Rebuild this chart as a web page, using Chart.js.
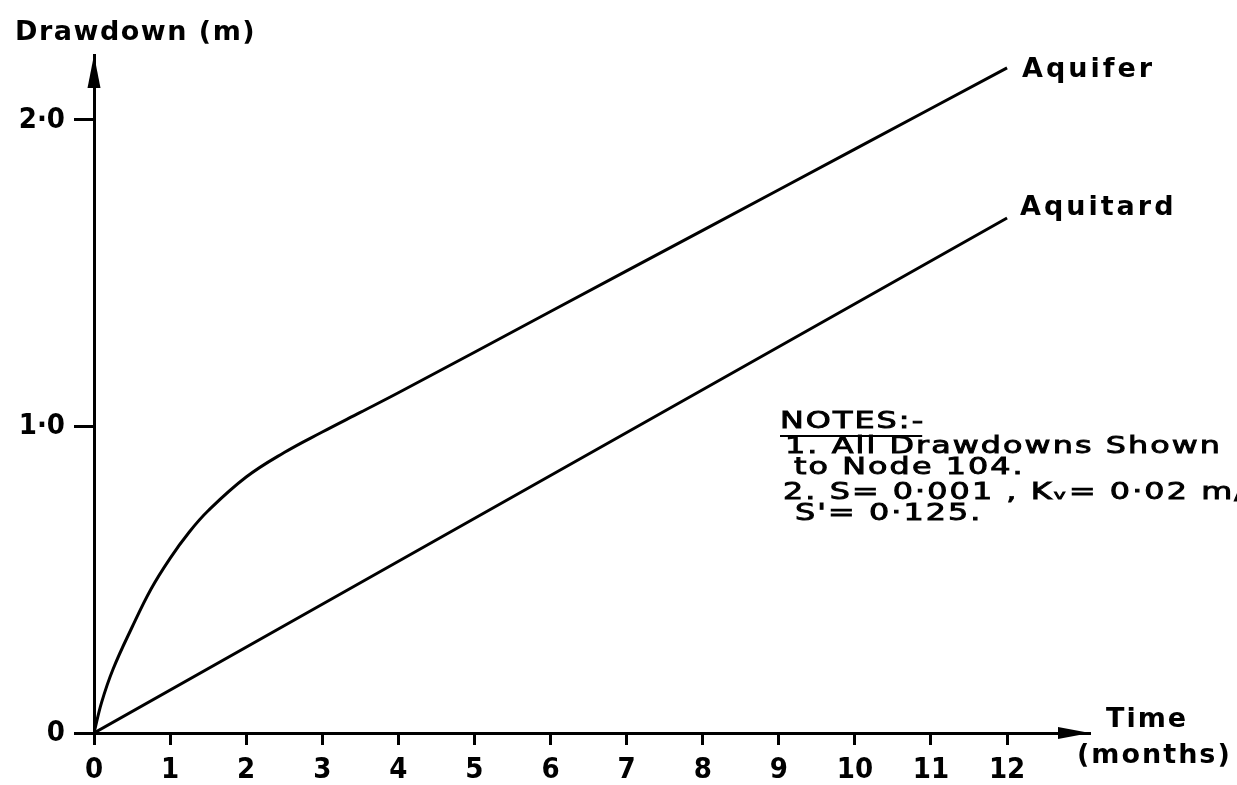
<!DOCTYPE html>
<html>
<head>
<meta charset="utf-8">
<script src="https://cdn.jsdelivr.net/npm/chart.js@4"></script>
<style>
  html, body { margin: 0; padding: 0; background: #fff; }
  #wrap { width: 1237px; height: 785px; }
</style>
</head>
<body>
<div id="wrap"><canvas id="drawdown-chart" width="1237" height="785"></canvas></div>
<script>
// values
const months = [0, 0.1, 0.25, 0.5, 0.75, 1, 1.25, 1.5, 2, 2.5, 3, 3.5, 4, 6, 8, 10, 12];
const aquifer = [0, 0.1, 0.208, 0.345, 0.47, 0.57, 0.655, 0.725, 0.835, 0.915, 0.982, 1.046, 1.11, 1.375, 1.64, 1.905, 2.17];
const aquitardMonths = [0, 3, 6, 9, 12];
const aquitard = [0, 0.42, 0.84, 1.26, 1.68];
const xTicks = [0, 1, 2, 3, 4, 5, 6, 7, 8, 9, 10, 11, 12];
const yTicks = [0, 1, 2];
const yTickLabels = ['0', '1·0', '2·0'];
const notes = [
  '1. All Drawdowns Shown',
  'to Node 104.',
  '2. S= 0·001 , Kᵥ= 0·02 m/da',
  'S\'= 0·125.'
];
const notesX = [785, 794, 783, 795];
const notesY = [453, 474, 499, 520];

const canvas = document.querySelector('#drawdown-chart');
const ink = '#000';
const face = '"DejaVu Sans Condensed", "DejaVu Sans"';
const textFace = '"DejaVu Sans"';

function toPoints(xs, ys) {
  return xs.map((x, i) => ({ x: x, y: ys[i] }));
}

// arrows, titles, series names and the notes block
const annotations = {
  id: 'annotations',
  afterDraw(chart) {
    const ctx = chart.ctx;
    const area = chart.chartArea;
    const ys = chart.scales.y;
    ctx.save();
    ctx.fillStyle = ink;
    ctx.strokeStyle = ink;

    // y axis arrow head
    ctx.beginPath();
    ctx.moveTo(area.left, area.top);
    ctx.lineTo(area.left - 6.5, area.top + 33);
    ctx.lineTo(area.left + 6.5, area.top + 33);
    ctx.closePath();
    ctx.fill();

    // x axis arrow head
    ctx.beginPath();
    ctx.moveTo(area.right, area.bottom);
    ctx.lineTo(area.right - 32, area.bottom - 6);
    ctx.lineTo(area.right - 32, area.bottom + 6);
    ctx.closePath();
    ctx.fill();

    ctx.textBaseline = 'alphabetic';
    ctx.textAlign = 'left';

    // axis titles
    ctx.font = 'bold 27px ' + textFace;
    ctx.letterSpacing = '1.5px';
    ctx.fillText('Drawdown (m)', 15, 40);
    ctx.letterSpacing = '2px';
    ctx.fillText('Time', 1106, 727);
    ctx.fillText('(months)', 1077, 763);

    // series names next to the line ends
    ctx.letterSpacing = '3px';
    ctx.fillText('Aquifer', 1022, ys.getPixelForValue(aquifer[aquifer.length - 1]) + 9);
    ctx.fillText('Aquitard', 1020, ys.getPixelForValue(aquitard[aquitard.length - 1]) - 3);

    // notes: wide lettering, stretched so the first line spans like the original
    ctx.font = '23px ' + textFace;
    ctx.letterSpacing = '1.5px';
    const sx = 437 / ctx.measureText(notes[0]).width;
    const wideText = (s, x, y) => {
      ctx.save();
      ctx.translate(x, y);
      ctx.scale(sx, 1);
      ctx.lineWidth = 0.9;
      ctx.fillText(s, 0, 0);
      ctx.strokeText(s, 0, 0);
      ctx.restore();
    };
    wideText('NOTES:-', 780, 428);
    const w = ctx.measureText('NOTES:-').width * sx;
    ctx.lineWidth = 2;
    ctx.beginPath();
    ctx.moveTo(780, 436);
    ctx.lineTo(780 + w - 3, 436);
    ctx.stroke();
    notes.forEach((line, i) => {
      wideText(line, notesX[i], notesY[i]);
    });
    ctx.restore();
  }
};

const drawdownChart = new Chart(canvas, {
  type: 'scatter',
  data: {
    datasets: [
      {
        label: 'Aquifer',
        data: toPoints(months, aquifer),
        showLine: true,
        borderColor: ink,
        borderWidth: 3,
        pointRadius: 0,
        tension: 0.4,
        fill: false,
      },
      {
        label: 'Aquitard',
        data: toPoints(aquitardMonths, aquitard),
        showLine: true,
        borderColor: ink,
        borderWidth: 3,
        pointRadius: 0,
        fill: false,
      }
    ]
  },
  options: {
    responsive: false,
    animation: false,
    layout: {
      padding: { left: 0, right: 147, top: 55, bottom: 0 }
    },
    plugins: {
      legend: { display: false },
      tooltip: { enabled: false },
    },
    scales: {
      x: {
        type: 'linear',
        min: 0,
        max: 13.09,
        afterBuildTicks: (scale) => {
          scale.ticks = xTicks.map(v => ({ value: v }));
        },
        afterFit: (scale) => {
          scale.height = 52;
        },
        ticks: {
          color: ink,
          padding: 8,
          maxRotation: 0,
          autoSkip: false,
          font: { family: face, size: 29, weight: '600' },
          callback: (v) => String(v),
        },
        grid: {
          drawOnChartArea: false,
          drawTicks: true,
          tickLength: 12,
          tickWidth: 3,
          tickColor: ink,
        },
        border: { display: true, color: ink, width: 3 },
      },
      y: {
        type: 'linear',
        min: 0,
        max: 2.212,
        afterBuildTicks: (scale) => {
          scale.ticks = yTicks.map(v => ({ value: v }));
        },
        afterFit: (scale) => {
          scale.width = 94;
        },
        ticks: {
          color: ink,
          padding: 9,
          autoSkip: false,
          font: { family: face, size: 29, weight: '600' },
          callback: (v) => yTickLabels[yTicks.indexOf(v)],
        },
        grid: {
          drawOnChartArea: false,
          drawTicks: true,
          tickLength: 20,
          tickWidth: 3,
          tickColor: ink,
        },
        border: { display: true, color: ink, width: 3 },
      }
    }
  },
  plugins: [annotations]
});
</script>
</body>
</html>
